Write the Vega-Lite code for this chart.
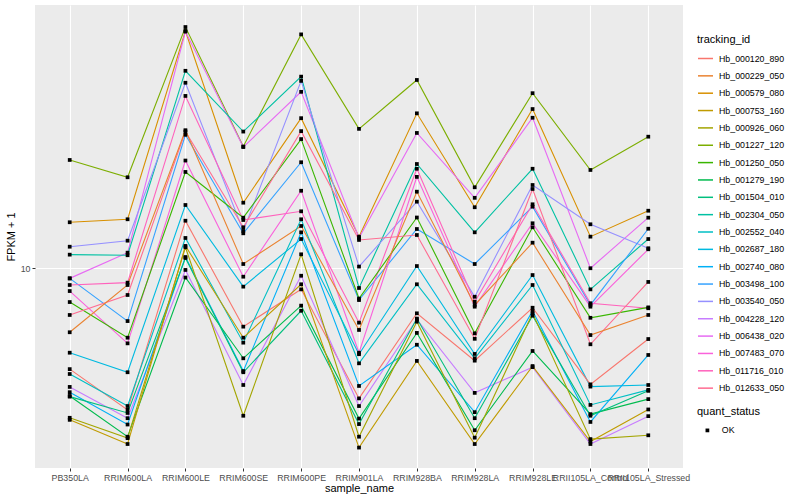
{
"$schema": "https://vega.github.io/schema/vega-lite/v6.json",
"autosize": "none",
"width": 648,
"height": 463,
"padding": {"left": 35, "top": 5, "right": 117, "bottom": 32},
"background": "white",
"config": {
  "font": "Liberation Sans",
  "view": {"fill": "#EBEBEB", "stroke": null},
  "axis": {"gridColor": "white", "gridWidth": 1.1, "domain": false, "tickColor": "#333333", "tickSize": 3, "labelColor": "#4D4D4D", "labelFontSize": 8.8, "titleFontSize": 11, "titleFontWeight": "normal", "titleColor": "black"}
},
"data": {"values": [
{"tracking_id":"Hb_001227_120","sample_name":"PB350LA","FPKM":23.0,"quant_status":"OK"},
{"tracking_id":"Hb_001227_120","sample_name":"RRIM600LA","FPKM":20.14,"quant_status":"OK"},
{"tracking_id":"Hb_001227_120","sample_name":"RRIM600LE","FPKM":63.8,"quant_status":"OK"},
{"tracking_id":"Hb_001227_120","sample_name":"RRIM600SE","FPKM":25.5,"quant_status":"OK"},
{"tracking_id":"Hb_001227_120","sample_name":"RRIM600PE","FPKM":60.3,"quant_status":"OK"},
{"tracking_id":"Hb_001227_120","sample_name":"RRIM901LA","FPKM":29.2,"quant_status":"OK"},
{"tracking_id":"Hb_001227_120","sample_name":"RRIM928BA","FPKM":42.5,"quant_status":"OK"},
{"tracking_id":"Hb_001227_120","sample_name":"RRIM928LA","FPKM":18.65,"quant_status":"OK"},
{"tracking_id":"Hb_001227_120","sample_name":"RRIM928LE","FPKM":38.4,"quant_status":"OK"},
{"tracking_id":"Hb_001227_120","sample_name":"RRII105LA_Control","FPKM":21.3,"quant_status":"OK"},
{"tracking_id":"Hb_001227_120","sample_name":"RRII105LA_Stressed","FPKM":27.5,"quant_status":"OK"},
{"tracking_id":"Hb_000579_080","sample_name":"PB350LA","FPKM":14.26,"quant_status":"OK"},
{"tracking_id":"Hb_000579_080","sample_name":"RRIM600LA","FPKM":14.59,"quant_status":"OK"},
{"tracking_id":"Hb_000579_080","sample_name":"RRIM600LE","FPKM":61.9,"quant_status":"OK"},
{"tracking_id":"Hb_000579_080","sample_name":"RRIM600SE","FPKM":16.57,"quant_status":"OK"},
{"tracking_id":"Hb_000579_080","sample_name":"RRIM600PE","FPKM":31.7,"quant_status":"OK"},
{"tracking_id":"Hb_000579_080","sample_name":"RRIM901LA","FPKM":12.77,"quant_status":"OK"},
{"tracking_id":"Hb_000579_080","sample_name":"RRIM928BA","FPKM":32.9,"quant_status":"OK"},
{"tracking_id":"Hb_000579_080","sample_name":"RRIM928LA","FPKM":16.0,"quant_status":"OK"},
{"tracking_id":"Hb_000579_080","sample_name":"RRIM928LE","FPKM":34.0,"quant_status":"OK"},
{"tracking_id":"Hb_000579_080","sample_name":"RRII105LA_Control","FPKM":12.77,"quant_status":"OK"},
{"tracking_id":"Hb_000579_080","sample_name":"RRII105LA_Stressed","FPKM":15.58,"quant_status":"OK"},
{"tracking_id":"Hb_006438_020","sample_name":"PB350LA","FPKM":9.27,"quant_status":"OK"},
{"tracking_id":"Hb_006438_020","sample_name":"RRIM600LA","FPKM":11.29,"quant_status":"OK"},
{"tracking_id":"Hb_006438_020","sample_name":"RRIM600LE","FPKM":61.6,"quant_status":"OK"},
{"tracking_id":"Hb_006438_020","sample_name":"RRIM600SE","FPKM":25.4,"quant_status":"OK"},
{"tracking_id":"Hb_006438_020","sample_name":"RRIM600PE","FPKM":38.8,"quant_status":"OK"},
{"tracking_id":"Hb_006438_020","sample_name":"RRIM901LA","FPKM":12.64,"quant_status":"OK"},
{"tracking_id":"Hb_006438_020","sample_name":"RRIM928BA","FPKM":28.3,"quant_status":"OK"},
{"tracking_id":"Hb_006438_020","sample_name":"RRIM928LA","FPKM":17.2,"quant_status":"OK"},
{"tracking_id":"Hb_006438_020","sample_name":"RRIM928LE","FPKM":31.8,"quant_status":"OK"},
{"tracking_id":"Hb_006438_020","sample_name":"RRII105LA_Control","FPKM":10.02,"quant_status":"OK"},
{"tracking_id":"Hb_006438_020","sample_name":"RRII105LA_Stressed","FPKM":14.77,"quant_status":"OK"},
{"tracking_id":"Hb_002304_050","sample_name":"PB350LA","FPKM":11.12,"quant_status":"OK"},
{"tracking_id":"Hb_002304_050","sample_name":"RRIM600LA","FPKM":11.07,"quant_status":"OK"},
{"tracking_id":"Hb_002304_050","sample_name":"RRIM600LE","FPKM":45.6,"quant_status":"OK"},
{"tracking_id":"Hb_002304_050","sample_name":"RRIM600SE","FPKM":28.6,"quant_status":"OK"},
{"tracking_id":"Hb_002304_050","sample_name":"RRIM600PE","FPKM":43.6,"quant_status":"OK"},
{"tracking_id":"Hb_002304_050","sample_name":"RRIM901LA","FPKM":8.61,"quant_status":"OK"},
{"tracking_id":"Hb_002304_050","sample_name":"RRIM928BA","FPKM":22.3,"quant_status":"OK"},
{"tracking_id":"Hb_002304_050","sample_name":"RRIM928LA","FPKM":13.2,"quant_status":"OK"},
{"tracking_id":"Hb_002304_050","sample_name":"RRIM928LE","FPKM":21.5,"quant_status":"OK"},
{"tracking_id":"Hb_002304_050","sample_name":"RRII105LA_Control","FPKM":8.52,"quant_status":"OK"},
{"tracking_id":"Hb_002304_050","sample_name":"RRII105LA_Stressed","FPKM":12.54,"quant_status":"OK"},
{"tracking_id":"Hb_003540_050","sample_name":"PB350LA","FPKM":11.82,"quant_status":"OK"},
{"tracking_id":"Hb_003540_050","sample_name":"RRIM600LA","FPKM":12.38,"quant_status":"OK"},
{"tracking_id":"Hb_003540_050","sample_name":"RRIM600LE","FPKM":41.6,"quant_status":"OK"},
{"tracking_id":"Hb_003540_050","sample_name":"RRIM600SE","FPKM":13.34,"quant_status":"OK"},
{"tracking_id":"Hb_003540_050","sample_name":"RRIM600PE","FPKM":42.2,"quant_status":"OK"},
{"tracking_id":"Hb_003540_050","sample_name":"RRIM901LA","FPKM":10.15,"quant_status":"OK"},
{"tracking_id":"Hb_003540_050","sample_name":"RRIM928BA","FPKM":16.7,"quant_status":"OK"},
{"tracking_id":"Hb_003540_050","sample_name":"RRIM928LA","FPKM":8.05,"quant_status":"OK"},
{"tracking_id":"Hb_003540_050","sample_name":"RRIM928LE","FPKM":18.98,"quant_status":"OK"},
{"tracking_id":"Hb_003540_050","sample_name":"RRII105LA_Control","FPKM":14.04,"quant_status":"OK"},
{"tracking_id":"Hb_003540_050","sample_name":"RRII105LA_Stressed","FPKM":11.68,"quant_status":"OK"},
{"tracking_id":"Hb_003498_100","sample_name":"PB350LA","FPKM":9.27,"quant_status":"OK"},
{"tracking_id":"Hb_003498_100","sample_name":"RRIM600LA","FPKM":6.68,"quant_status":"OK"},
{"tracking_id":"Hb_003498_100","sample_name":"RRIM600LE","FPKM":27.9,"quant_status":"OK"},
{"tracking_id":"Hb_003498_100","sample_name":"RRIM600SE","FPKM":13.1,"quant_status":"OK"},
{"tracking_id":"Hb_003498_100","sample_name":"RRIM600PE","FPKM":22.6,"quant_status":"OK"},
{"tracking_id":"Hb_003498_100","sample_name":"RRIM901LA","FPKM":7.85,"quant_status":"OK"},
{"tracking_id":"Hb_003498_100","sample_name":"RRIM928BA","FPKM":13.54,"quant_status":"OK"},
{"tracking_id":"Hb_003498_100","sample_name":"RRIM928LA","FPKM":10.35,"quant_status":"OK"},
{"tracking_id":"Hb_003498_100","sample_name":"RRIM928LE","FPKM":16.07,"quant_status":"OK"},
{"tracking_id":"Hb_003498_100","sample_name":"RRII105LA_Control","FPKM":7.56,"quant_status":"OK"},
{"tracking_id":"Hb_003498_100","sample_name":"RRII105LA_Stressed","FPKM":13.57,"quant_status":"OK"},
{"tracking_id":"Hb_011716_010","sample_name":"PB350LA","FPKM":8.81,"quant_status":"OK"},
{"tracking_id":"Hb_011716_010","sample_name":"RRIM600LA","FPKM":8.97,"quant_status":"OK"},
{"tracking_id":"Hb_011716_010","sample_name":"RRIM600LE","FPKM":37.6,"quant_status":"OK"},
{"tracking_id":"Hb_011716_010","sample_name":"RRIM600SE","FPKM":14.51,"quant_status":"OK"},
{"tracking_id":"Hb_011716_010","sample_name":"RRIM600PE","FPKM":15.51,"quant_status":"OK"},
{"tracking_id":"Hb_011716_010","sample_name":"RRIM901LA","FPKM":6.6,"quant_status":"OK"},
{"tracking_id":"Hb_011716_010","sample_name":"RRIM928BA","FPKM":21.5,"quant_status":"OK"},
{"tracking_id":"Hb_011716_010","sample_name":"RRIM928LA","FPKM":7.75,"quant_status":"OK"},
{"tracking_id":"Hb_011716_010","sample_name":"RRIM928LE","FPKM":16.37,"quant_status":"OK"},
{"tracking_id":"Hb_011716_010","sample_name":"RRII105LA_Control","FPKM":7.66,"quant_status":"OK"},
{"tracking_id":"Hb_011716_010","sample_name":"RRII105LA_Stressed","FPKM":7.37,"quant_status":"OK"},
{"tracking_id":"Hb_007483_070","sample_name":"PB350LA","FPKM":8.41,"quant_status":"OK"},
{"tracking_id":"Hb_007483_070","sample_name":"RRIM600LA","FPKM":5.63,"quant_status":"OK"},
{"tracking_id":"Hb_007483_070","sample_name":"RRIM600LE","FPKM":22.9,"quant_status":"OK"},
{"tracking_id":"Hb_007483_070","sample_name":"RRIM600SE","FPKM":9.39,"quant_status":"OK"},
{"tracking_id":"Hb_007483_070","sample_name":"RRIM600PE","FPKM":18.16,"quant_status":"OK"},
{"tracking_id":"Hb_007483_070","sample_name":"RRIM901LA","FPKM":5.24,"quant_status":"OK"},
{"tracking_id":"Hb_007483_070","sample_name":"RRIM928BA","FPKM":20.2,"quant_status":"OK"},
{"tracking_id":"Hb_007483_070","sample_name":"RRIM928LA","FPKM":7.46,"quant_status":"OK"},
{"tracking_id":"Hb_007483_070","sample_name":"RRIM928LE","FPKM":14.15,"quant_status":"OK"},
{"tracking_id":"Hb_007483_070","sample_name":"RRII105LA_Control","FPKM":7.46,"quant_status":"OK"},
{"tracking_id":"Hb_007483_070","sample_name":"RRII105LA_Stressed","FPKM":11.59,"quant_status":"OK"},
{"tracking_id":"Hb_001250_050","sample_name":"PB350LA","FPKM":7.73,"quant_status":"OK"},
{"tracking_id":"Hb_001250_050","sample_name":"RRIM600LA","FPKM":5.88,"quant_status":"OK"},
{"tracking_id":"Hb_001250_050","sample_name":"RRIM600LE","FPKM":20.98,"quant_status":"OK"},
{"tracking_id":"Hb_001250_050","sample_name":"RRIM600SE","FPKM":14.77,"quant_status":"OK"},
{"tracking_id":"Hb_001250_050","sample_name":"RRIM600PE","FPKM":27.0,"quant_status":"OK"},
{"tracking_id":"Hb_001250_050","sample_name":"RRIM901LA","FPKM":7.94,"quant_status":"OK"},
{"tracking_id":"Hb_001250_050","sample_name":"RRIM928BA","FPKM":14.79,"quant_status":"OK"},
{"tracking_id":"Hb_001250_050","sample_name":"RRIM928LA","FPKM":6.08,"quant_status":"OK"},
{"tracking_id":"Hb_001250_050","sample_name":"RRIM928LE","FPKM":13.72,"quant_status":"OK"},
{"tracking_id":"Hb_001250_050","sample_name":"RRII105LA_Control","FPKM":6.85,"quant_status":"OK"},
{"tracking_id":"Hb_001250_050","sample_name":"RRII105LA_Stressed","FPKM":7.42,"quant_status":"OK"},
{"tracking_id":"Hb_012633_050","sample_name":"PB350LA","FPKM":7.0,"quant_status":"OK"},
{"tracking_id":"Hb_012633_050","sample_name":"RRIM600LA","FPKM":8.16,"quant_status":"OK"},
{"tracking_id":"Hb_012633_050","sample_name":"RRIM600LE","FPKM":28.6,"quant_status":"OK"},
{"tracking_id":"Hb_012633_050","sample_name":"RRIM600SE","FPKM":13.72,"quant_status":"OK"},
{"tracking_id":"Hb_012633_050","sample_name":"RRIM600PE","FPKM":28.7,"quant_status":"OK"},
{"tracking_id":"Hb_012633_050","sample_name":"RRIM901LA","FPKM":12.45,"quant_status":"OK"},
{"tracking_id":"Hb_012633_050","sample_name":"RRIM928BA","FPKM":12.93,"quant_status":"OK"},
{"tracking_id":"Hb_012633_050","sample_name":"RRIM928LA","FPKM":5.83,"quant_status":"OK"},
{"tracking_id":"Hb_012633_050","sample_name":"RRIM928LE","FPKM":18.41,"quant_status":"OK"},
{"tracking_id":"Hb_012633_050","sample_name":"RRII105LA_Control","FPKM":5.59,"quant_status":"OK"},
{"tracking_id":"Hb_012633_050","sample_name":"RRII105LA_Stressed","FPKM":9.02,"quant_status":"OK"},
{"tracking_id":"Hb_000229_050","sample_name":"PB350LA","FPKM":6.13,"quant_status":"OK"},
{"tracking_id":"Hb_000229_050","sample_name":"RRIM600LA","FPKM":8.81,"quant_status":"OK"},
{"tracking_id":"Hb_000229_050","sample_name":"RRIM600LE","FPKM":28.9,"quant_status":"OK"},
{"tracking_id":"Hb_000229_050","sample_name":"RRIM600SE","FPKM":10.35,"quant_status":"OK"},
{"tracking_id":"Hb_000229_050","sample_name":"RRIM600PE","FPKM":13.86,"quant_status":"OK"},
{"tracking_id":"Hb_000229_050","sample_name":"RRIM901LA","FPKM":6.24,"quant_status":"OK"},
{"tracking_id":"Hb_000229_050","sample_name":"RRIM928BA","FPKM":18.03,"quant_status":"OK"},
{"tracking_id":"Hb_000229_050","sample_name":"RRIM928LA","FPKM":7.56,"quant_status":"OK"},
{"tracking_id":"Hb_000229_050","sample_name":"RRIM928LE","FPKM":12.19,"quant_status":"OK"},
{"tracking_id":"Hb_000229_050","sample_name":"RRII105LA_Control","FPKM":6.0,"quant_status":"OK"},
{"tracking_id":"Hb_000229_050","sample_name":"RRII105LA_Stressed","FPKM":7.0,"quant_status":"OK"},
{"tracking_id":"Hb_002687_180","sample_name":"PB350LA","FPKM":5.24,"quant_status":"OK"},
{"tracking_id":"Hb_002687_180","sample_name":"RRIM600LA","FPKM":4.51,"quant_status":"OK"},
{"tracking_id":"Hb_002687_180","sample_name":"RRIM600LE","FPKM":16.28,"quant_status":"OK"},
{"tracking_id":"Hb_002687_180","sample_name":"RRIM600SE","FPKM":8.7,"quant_status":"OK"},
{"tracking_id":"Hb_002687_180","sample_name":"RRIM600PE","FPKM":12.54,"quant_status":"OK"},
{"tracking_id":"Hb_002687_180","sample_name":"RRIM901LA","FPKM":5.18,"quant_status":"OK"},
{"tracking_id":"Hb_002687_180","sample_name":"RRIM928BA","FPKM":10.19,"quant_status":"OK"},
{"tracking_id":"Hb_002687_180","sample_name":"RRIM928LA","FPKM":5.19,"quant_status":"OK"},
{"tracking_id":"Hb_002687_180","sample_name":"RRIM928LE","FPKM":9.51,"quant_status":"OK"},
{"tracking_id":"Hb_002687_180","sample_name":"RRII105LA_Control","FPKM":4.04,"quant_status":"OK"},
{"tracking_id":"Hb_002687_180","sample_name":"RRII105LA_Stressed","FPKM":4.09,"quant_status":"OK"},
{"tracking_id":"Hb_000120_890","sample_name":"PB350LA","FPKM":4.62,"quant_status":"OK"},
{"tracking_id":"Hb_000120_890","sample_name":"RRIM600LA","FPKM":3.38,"quant_status":"OK"},
{"tracking_id":"Hb_000120_890","sample_name":"RRIM600LE","FPKM":14.43,"quant_status":"OK"},
{"tracking_id":"Hb_000120_890","sample_name":"RRIM600SE","FPKM":6.4,"quant_status":"OK"},
{"tracking_id":"Hb_000120_890","sample_name":"RRIM600PE","FPKM":8.52,"quant_status":"OK"},
{"tracking_id":"Hb_000120_890","sample_name":"RRIM901LA","FPKM":3.69,"quant_status":"OK"},
{"tracking_id":"Hb_000120_890","sample_name":"RRIM928BA","FPKM":7.09,"quant_status":"OK"},
{"tracking_id":"Hb_000120_890","sample_name":"RRIM928LA","FPKM":4.93,"quant_status":"OK"},
{"tracking_id":"Hb_000120_890","sample_name":"RRIM928LE","FPKM":7.4,"quant_status":"OK"},
{"tracking_id":"Hb_000120_890","sample_name":"RRII105LA_Control","FPKM":4.11,"quant_status":"OK"},
{"tracking_id":"Hb_000120_890","sample_name":"RRII105LA_Stressed","FPKM":5.82,"quant_status":"OK"},
{"tracking_id":"Hb_002552_040","sample_name":"PB350LA","FPKM":4.45,"quant_status":"OK"},
{"tracking_id":"Hb_002552_040","sample_name":"RRIM600LA","FPKM":3.48,"quant_status":"OK"},
{"tracking_id":"Hb_002552_040","sample_name":"RRIM600LE","FPKM":12.64,"quant_status":"OK"},
{"tracking_id":"Hb_002552_040","sample_name":"RRIM600SE","FPKM":5.66,"quant_status":"OK"},
{"tracking_id":"Hb_002552_040","sample_name":"RRIM600PE","FPKM":14.59,"quant_status":"OK"},
{"tracking_id":"Hb_002552_040","sample_name":"RRIM901LA","FPKM":4.83,"quant_status":"OK"},
{"tracking_id":"Hb_002552_040","sample_name":"RRIM928BA","FPKM":8.86,"quant_status":"OK"},
{"tracking_id":"Hb_002552_040","sample_name":"RRIM928LA","FPKM":5.02,"quant_status":"OK"},
{"tracking_id":"Hb_002552_040","sample_name":"RRIM928LE","FPKM":8.81,"quant_status":"OK"},
{"tracking_id":"Hb_002552_040","sample_name":"RRII105LA_Control","FPKM":3.51,"quant_status":"OK"},
{"tracking_id":"Hb_002552_040","sample_name":"RRII105LA_Stressed","FPKM":3.94,"quant_status":"OK"},
{"tracking_id":"Hb_004228_120","sample_name":"PB350LA","FPKM":4.03,"quant_status":"OK"},
{"tracking_id":"Hb_004228_120","sample_name":"RRIM600LA","FPKM":3.17,"quant_status":"OK"},
{"tracking_id":"Hb_004228_120","sample_name":"RRIM600LE","FPKM":9.89,"quant_status":"OK"},
{"tracking_id":"Hb_004228_120","sample_name":"RRIM600SE","FPKM":4.09,"quant_status":"OK"},
{"tracking_id":"Hb_004228_120","sample_name":"RRIM600PE","FPKM":9.46,"quant_status":"OK"},
{"tracking_id":"Hb_004228_120","sample_name":"RRIM901LA","FPKM":3.48,"quant_status":"OK"},
{"tracking_id":"Hb_004228_120","sample_name":"RRIM928BA","FPKM":6.77,"quant_status":"OK"},
{"tracking_id":"Hb_004228_120","sample_name":"RRIM928LA","FPKM":3.85,"quant_status":"OK"},
{"tracking_id":"Hb_004228_120","sample_name":"RRIM928LE","FPKM":4.69,"quant_status":"OK"},
{"tracking_id":"Hb_004228_120","sample_name":"RRII105LA_Control","FPKM":2.6,"quant_status":"OK"},
{"tracking_id":"Hb_004228_120","sample_name":"RRII105LA_Stressed","FPKM":3.22,"quant_status":"OK"},
{"tracking_id":"Hb_002740_080","sample_name":"PB350LA","FPKM":3.87,"quant_status":"OK"},
{"tracking_id":"Hb_002740_080","sample_name":"RRIM600LA","FPKM":3.02,"quant_status":"OK"},
{"tracking_id":"Hb_002740_080","sample_name":"RRIM600LE","FPKM":10.92,"quant_status":"OK"},
{"tracking_id":"Hb_002740_080","sample_name":"RRIM600SE","FPKM":4.55,"quant_status":"OK"},
{"tracking_id":"Hb_002740_080","sample_name":"RRIM600PE","FPKM":13.2,"quant_status":"OK"},
{"tracking_id":"Hb_002740_080","sample_name":"RRIM901LA","FPKM":4.06,"quant_status":"OK"},
{"tracking_id":"Hb_002740_080","sample_name":"RRIM928BA","FPKM":5.57,"quant_status":"OK"},
{"tracking_id":"Hb_002740_080","sample_name":"RRIM928LA","FPKM":3.32,"quant_status":"OK"},
{"tracking_id":"Hb_002740_080","sample_name":"RRIM928LE","FPKM":7.22,"quant_status":"OK"},
{"tracking_id":"Hb_002740_080","sample_name":"RRII105LA_Control","FPKM":3.08,"quant_status":"OK"},
{"tracking_id":"Hb_002740_080","sample_name":"RRII105LA_Stressed","FPKM":5.15,"quant_status":"OK"},
{"tracking_id":"Hb_001279_190","sample_name":"PB350LA","FPKM":3.76,"quant_status":"OK"},
{"tracking_id":"Hb_001279_190","sample_name":"RRIM600LA","FPKM":2.75,"quant_status":"OK"},
{"tracking_id":"Hb_001279_190","sample_name":"RRIM600LE","FPKM":9.33,"quant_status":"OK"},
{"tracking_id":"Hb_001279_190","sample_name":"RRIM600SE","FPKM":5.02,"quant_status":"OK"},
{"tracking_id":"Hb_001279_190","sample_name":"RRIM600PE","FPKM":7.52,"quant_status":"OK"},
{"tracking_id":"Hb_001279_190","sample_name":"RRIM901LA","FPKM":3.16,"quant_status":"OK"},
{"tracking_id":"Hb_001279_190","sample_name":"RRIM928BA","FPKM":6.1,"quant_status":"OK"},
{"tracking_id":"Hb_001279_190","sample_name":"RRIM928LA","FPKM":2.89,"quant_status":"OK"},
{"tracking_id":"Hb_001279_190","sample_name":"RRIM928LE","FPKM":5.31,"quant_status":"OK"},
{"tracking_id":"Hb_001279_190","sample_name":"RRII105LA_Control","FPKM":3.27,"quant_status":"OK"},
{"tracking_id":"Hb_001279_190","sample_name":"RRII105LA_Stressed","FPKM":3.67,"quant_status":"OK"},
{"tracking_id":"Hb_001504_010","sample_name":"PB350LA","FPKM":3.74,"quant_status":"OK"},
{"tracking_id":"Hb_001504_010","sample_name":"RRIM600LA","FPKM":3.3,"quant_status":"OK"},
{"tracking_id":"Hb_001504_010","sample_name":"RRIM600LE","FPKM":10.84,"quant_status":"OK"},
{"tracking_id":"Hb_001504_010","sample_name":"RRIM600SE","FPKM":4.51,"quant_status":"OK"},
{"tracking_id":"Hb_001504_010","sample_name":"RRIM600PE","FPKM":7.23,"quant_status":"OK"},
{"tracking_id":"Hb_001504_010","sample_name":"RRIM901LA","FPKM":3.03,"quant_status":"OK"},
{"tracking_id":"Hb_001504_010","sample_name":"RRIM928BA","FPKM":6.81,"quant_status":"OK"},
{"tracking_id":"Hb_001504_010","sample_name":"RRIM928LA","FPKM":3.17,"quant_status":"OK"},
{"tracking_id":"Hb_001504_010","sample_name":"RRIM928LE","FPKM":6.96,"quant_status":"OK"},
{"tracking_id":"Hb_001504_010","sample_name":"RRII105LA_Control","FPKM":3.23,"quant_status":"OK"},
{"tracking_id":"Hb_001504_010","sample_name":"RRII105LA_Stressed","FPKM":3.91,"quant_status":"OK"},
{"tracking_id":"Hb_000926_060","sample_name":"PB350LA","FPKM":3.18,"quant_status":"OK"},
{"tracking_id":"Hb_000926_060","sample_name":"RRIM600LA","FPKM":2.72,"quant_status":"OK"},
{"tracking_id":"Hb_000926_060","sample_name":"RRIM600LE","FPKM":11.77,"quant_status":"OK"},
{"tracking_id":"Hb_000926_060","sample_name":"RRIM600SE","FPKM":3.23,"quant_status":"OK"},
{"tracking_id":"Hb_000926_060","sample_name":"RRIM600PE","FPKM":11.15,"quant_status":"OK"},
{"tracking_id":"Hb_000926_060","sample_name":"RRIM901LA","FPKM":2.75,"quant_status":"OK"},
{"tracking_id":"Hb_000926_060","sample_name":"RRIM928BA","FPKM":6.65,"quant_status":"OK"},
{"tracking_id":"Hb_000926_060","sample_name":"RRIM928LA","FPKM":2.73,"quant_status":"OK"},
{"tracking_id":"Hb_000926_060","sample_name":"RRIM928LE","FPKM":7.09,"quant_status":"OK"},
{"tracking_id":"Hb_000926_060","sample_name":"RRII105LA_Control","FPKM":2.7,"quant_status":"OK"},
{"tracking_id":"Hb_000926_060","sample_name":"RRII105LA_Stressed","FPKM":2.78,"quant_status":"OK"},
{"tracking_id":"Hb_000753_160","sample_name":"PB350LA","FPKM":3.13,"quant_status":"OK"},
{"tracking_id":"Hb_000753_160","sample_name":"RRIM600LA","FPKM":2.6,"quant_status":"OK"},
{"tracking_id":"Hb_000753_160","sample_name":"RRIM600LE","FPKM":11.89,"quant_status":"OK"},
{"tracking_id":"Hb_000753_160","sample_name":"RRIM600SE","FPKM":5.88,"quant_status":"OK"},
{"tracking_id":"Hb_000753_160","sample_name":"RRIM600PE","FPKM":8.86,"quant_status":"OK"},
{"tracking_id":"Hb_000753_160","sample_name":"RRIM901LA","FPKM":2.53,"quant_status":"OK"},
{"tracking_id":"Hb_000753_160","sample_name":"RRIM928BA","FPKM":4.92,"quant_status":"OK"},
{"tracking_id":"Hb_000753_160","sample_name":"RRIM928LA","FPKM":2.6,"quant_status":"OK"},
{"tracking_id":"Hb_000753_160","sample_name":"RRIM928LE","FPKM":4.73,"quant_status":"OK"},
{"tracking_id":"Hb_000753_160","sample_name":"RRII105LA_Control","FPKM":2.65,"quant_status":"OK"},
{"tracking_id":"Hb_000753_160","sample_name":"RRII105LA_Stressed","FPKM":3.39,"quant_status":"OK"}
]},
"encoding": {
  "x": {"field": "sample_name", "type": "nominal",
    "sort": ["PB350LA","RRIM600LA","RRIM600LE","RRIM600SE","RRIM600PE","RRIM901LA","RRIM928BA","RRIM928LA","RRIM928LE","RRII105LA_Control","RRII105LA_Stressed"],
    "scale": {"type": "point", "padding": 0.6},
    "axis": {"title": "sample_name", "labelAngle": 0, "labelOverlap": false, "labelLimit": 0, "labelPadding": 2, "titlePadding": 1, "grid": true}},
  "y": {"field": "FPKM", "type": "quantitative",
    "scale": {"type": "log", "domain": [2.163, 75.55], "nice": false, "zero": false},
    "axis": {"title": "FPKM + 1", "values": [10], "format": "d", "grid": true, "labelPadding": 2, "titlePadding": 4}}
},
"layer": [
  {"mark": {"type": "line", "strokeWidth": 1.1, "clip": true},
   "encoding": {"color": {"field": "tracking_id", "type": "nominal",
     "scale": {"domain": ["Hb_000120_890","Hb_000229_050","Hb_000579_080","Hb_000753_160","Hb_000926_060","Hb_001227_120","Hb_001250_050","Hb_001279_190","Hb_001504_010","Hb_002304_050","Hb_002552_040","Hb_002687_180","Hb_002740_080","Hb_003498_100","Hb_003540_050","Hb_004228_120","Hb_006438_020","Hb_007483_070","Hb_011716_010","Hb_012633_050"],
       "range": ["#F8766D","#EA8331","#D89000","#C09B00","#A3A500","#7CAE00","#39B600","#00BB4E","#00BF7D","#00C1A3","#00BFC4","#00BAE0","#00B0F6","#35A2FF","#9590FF","#C77CFF","#E76BF3","#FA62DB","#FF62BC","#FF6C91"]},
     "legend": {"title": "tracking_id", "orient": "none", "legendX": 662, "legendY": 29, "symbolType": "stroke", "symbolSize": 225, "symbolStrokeWidth": 1.5, "labelFontSize": 8.8, "labelColor": "black", "titleFontSize": 11, "titleFontWeight": "normal", "titleColor": "black", "rowPadding": 3.35, "labelOffset": 5, "titlePadding": 5, "padding": 0}}}},
  {"mark": {"type": "point", "filled": true, "size": 14, "opacity": 1, "color": "black"},
   "encoding": {"shape": {"field": "quant_status", "type": "nominal", "scale": {"range": ["square"]},
     "legend": {"title": "quant_status", "orient": "none", "legendX": 662, "legendY": 401, "symbolSize": 14, "symbolFillColor": "black", "symbolStrokeColor": "black", "symbolOffset": 6, "labelOffset": 10, "labelFontSize": 8.8, "labelColor": "black", "titleFontSize": 11, "titleFontWeight": "normal", "titleColor": "black", "titlePadding": 9, "padding": 0}}}}
]
}
